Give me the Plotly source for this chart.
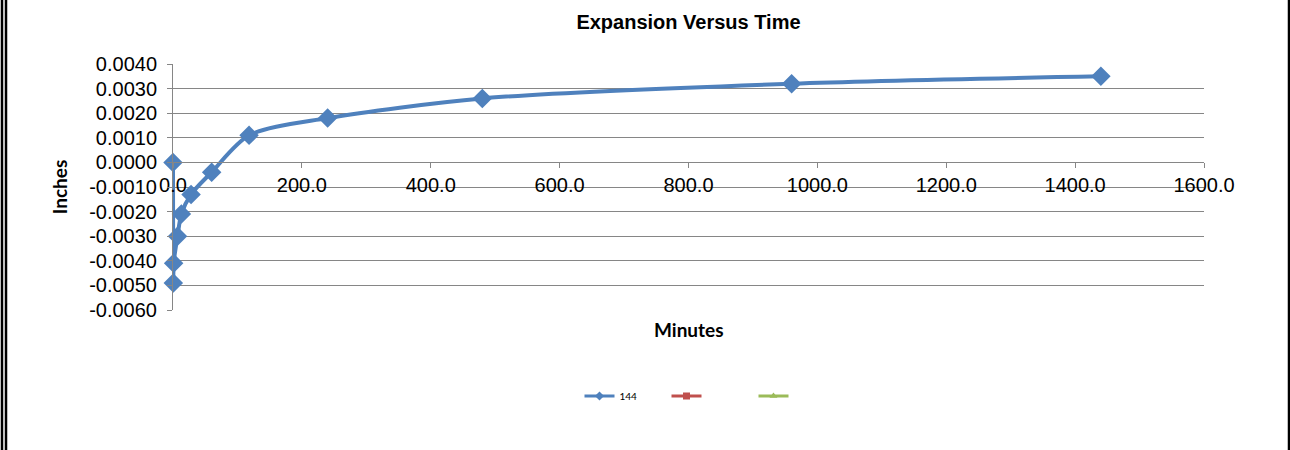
import plotly.graph_objects as go

minutes = [0, 0.5, 1, 7, 13, 28, 60, 118, 240, 480, 960, 1440]
inches = [0.0, -0.0049, -0.0041, -0.0030, -0.0021, -0.0013, -0.0004,
          0.0011, 0.0018, 0.0026, 0.0032, 0.0035]

x_ticks = [0, 200, 400, 600, 800, 1000, 1200, 1400, 1600]
y_ticks = [0.004, 0.003, 0.002, 0.001, 0.0, -0.001, -0.002, -0.003, -0.004, -0.005, -0.006]

blue = "#4F81BD"
grid = "#868686"

fig = go.Figure()
fig.add_trace(go.Scatter(x=minutes, y=inches, name="144", mode="lines+markers",
                         showlegend=False, cliponaxis=False,
                         line=dict(color=blue, width=4, shape="spline", smoothing=0.8),
                         marker=dict(symbol="diamond", size=15, color=blue)))
# legend entries, drawn small like the source
fig.add_trace(go.Scatter(x=[None], y=[None], name="144", mode="lines+markers",
                         line=dict(color=blue, width=3),
                         marker=dict(symbol="diamond", size=7, color=blue)))
fig.add_trace(go.Scatter(x=[None], y=[None], name=" ", mode="lines+markers",
                         line=dict(color="#C0504D", width=3),
                         marker=dict(symbol="square", size=7, color="#C0504D")))
fig.add_trace(go.Scatter(x=[None], y=[None], name=" ", mode="lines+markers",
                         line=dict(color="#9BBB59", width=3),
                         marker=dict(symbol="triangle-up", size=7, color="#9BBB59")))

ml, mr, mt, mb = 173, 86, 64, 140
W, H = 1290, 450
pw, ph = W - ml - mr, H - mt - mb


def px_x(p):
    return (p - ml) / pw


def px_y(p):
    return (H - mb - p) / ph


fig.update_layout(
    width=W, height=H,
    margin=dict(l=ml, r=mr, t=mt, b=mb, autoexpand=False),
    paper_bgcolor="white", plot_bgcolor="white",
    font=dict(family="Arial", color="black"),
    title=dict(text="<b>Expansion Versus Time</b>", x=0.5, xref="paper",
               y=1 - 22 / H, yref="container", yanchor="middle",
               font=dict(size=20, family="Arial")),
    showlegend=True,
    legend=dict(orientation="h", x=px_x(710), xanchor="center", xref="paper",
                y=1 - 396 / H, yref="container", yanchor="middle",
                font=dict(size=10, family="Lato"), itemwidth=30, entrywidth=42),
    xaxis=dict(range=[0, 1600], anchor="free", position=0.6, automargin=False,
               tickvals=x_ticks, ticktext=[f"{v:.1f}" for v in x_ticks],
               showgrid=False, zeroline=False, showline=True, linecolor=grid,
               ticks="outside", ticklen=5, tickcolor=grid,
               tickfont=dict(size=20, family="Arial")),
    yaxis=dict(range=[-0.006, 0.004], domain=[0, 1], automargin=False,
               tickvals=y_ticks, ticktext=[f"{v:.4f}" for v in y_ticks],
               showgrid=True, gridcolor=grid, gridwidth=1, zeroline=False,
               showline=True, linecolor=grid, ticks="outside", ticklen=5, tickcolor=grid,
               ticklabelstandoff=6,
               tickfont=dict(size=20, family="Arial"),
               title=dict(text="<b>Inches</b>", font=dict(size=19, family="Lato"), standoff=16)),
    annotations=[dict(text="<b>Minutes</b>", x=0.5, xref="paper", y=px_y(329), yref="paper",
                      yanchor="middle", showarrow=False, font=dict(size=19, family="Lato"))],
    shapes=[
        dict(type="line", xref="paper", yref="paper", x0=px_x(2), x1=px_x(2),
             y0=px_y(H), y1=px_y(0), line=dict(color="black", width=2.5)),
        dict(type="line", xref="paper", yref="paper", x0=px_x(6), x1=px_x(6),
             y0=px_y(H), y1=px_y(0), line=dict(color="black", width=2.5)),
        dict(type="line", xref="paper", yref="paper", x0=px_x(1289), x1=px_x(1289),
             y0=px_y(H), y1=px_y(0), line=dict(color="black", width=2.5)),
    ],
)

fig.write_html("out.html", config={"displayModeBar": False},
               post_script="document.body.style.margin='0';")
